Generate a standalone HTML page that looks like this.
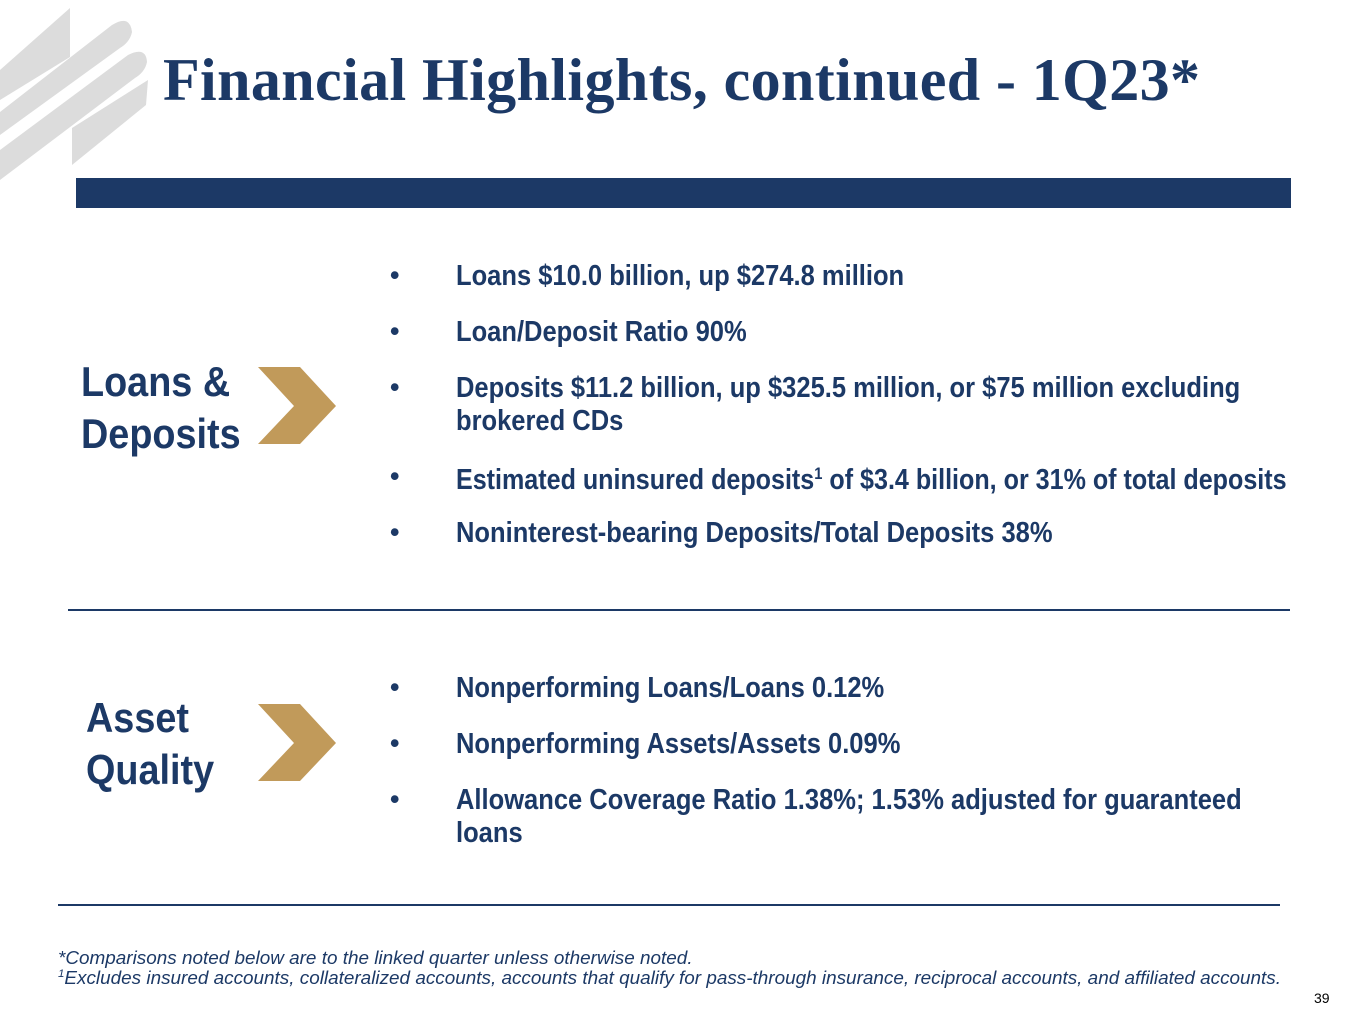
<!DOCTYPE html>
<html><head><meta charset="utf-8"><style>
body{margin:0;width:1365px;height:1024px;background:#fff;position:relative;overflow:hidden;font-family:"Liberation Sans",sans-serif;color:#1c3966}
.a{position:absolute}
.t{font-family:"Liberation Serif",serif;font-weight:bold;font-size:60px;letter-spacing:0.4px;left:163px;top:46px;color:#1c3966;white-space:nowrap}
.bar{left:76px;top:178px;width:1215px;height:30px;background:#1c3966}
.h{font-weight:bold;font-size:42px;line-height:52px;transform:scaleX(0.9);transform-origin:left top;white-space:nowrap}
.li{font-weight:bold;font-size:29px;line-height:33px;white-space:nowrap;transform:scaleX(0.88);transform-origin:left top}
.bu{font-weight:bold;font-size:27px}
.rule{height:2px;background:#1c3966}
.fn{font-style:italic;font-size:18px;color:#1c3966;white-space:nowrap;transform:scaleX(1.05);transform-origin:left top}
</style></head><body>
<svg class="a" style="left:0;top:0" width="160" height="200">
<polygon points="70,8 70,57 0,100 0,70" fill="#dcdcdc"/>
<path d="M0,112 L112,25 Q130,14 132,32 Q130,42 120,48 L0,135 Z" fill="#dcdcdc"/>
<path d="M0,150 L128,55 Q146,46 147,62 Q145,72 135,78 L0,180 Z" fill="#dcdcdc"/>
<polygon points="72,128 148,80 146,105 72,165" fill="#dcdcdc"/>
</svg>
<div class="a t">Financial Highlights, continued - 1Q23*</div>
<div class="a bar"></div>

<div class="a h" style="left:81px;top:356px">Loans &amp;<br>Deposits</div>
<svg class="a" style="left:258px;top:367px" width="80" height="78"><polygon points="0,0 42,0 78,39 42,77 0,77 36,39" fill="#c19a5a"/></svg>
<div>
<div class="a bu" style="left:390px;top:260px">•</div><div class="a li" style="left:456px;top:260px">Loans $10.0 billion, up $274.8 million</div>
<div class="a bu" style="left:390px;top:316px">•</div><div class="a li" style="left:456px;top:316px">Loan/Deposit Ratio 90%</div>
<div class="a bu" style="left:390px;top:372px">•</div><div class="a li" style="left:456px;top:372px">Deposits $11.2 billion, up $325.5 million, or $75 million excluding<br>brokered CDs</div>
<div class="a bu" style="left:390px;top:461px">•</div><div class="a li" style="left:456px;top:457px;transform:scaleX(0.865)">Estimated uninsured deposits<span style="font-size:17px;vertical-align:10px">1</span> of $3.4 billion, or 31% of total deposits</div>
<div class="a bu" style="left:390px;top:517px">•</div><div class="a li" style="left:456px;top:517px">Noninterest-bearing Deposits/Total Deposits 38%</div>
</div>
<div class="a rule" style="left:68px;top:609px;width:1222px"></div>

<div class="a h" style="left:86px;top:692px">Asset<br>Quality</div>
<svg class="a" style="left:258px;top:704px" width="80" height="78"><polygon points="0,0 42,0 78,39 42,77 0,77 36,39" fill="#c19a5a"/></svg>
<div>
<div class="a bu" style="left:390px;top:672px">•</div><div class="a li" style="left:456px;top:672px">Nonperforming Loans/Loans 0.12%</div>
<div class="a bu" style="left:390px;top:728px">•</div><div class="a li" style="left:456px;top:728px">Nonperforming Assets/Assets 0.09%</div>
<div class="a bu" style="left:390px;top:784px">•</div><div class="a li" style="left:456px;top:784px">Allowance Coverage Ratio 1.38%; 1.53% adjusted for guaranteed<br>loans</div>
</div>
<div class="a rule" style="left:58px;top:904px;width:1222px"></div>

<div class="a fn" style="left:58px;top:948px">*Comparisons noted below are to the linked quarter unless otherwise noted.</div>
<div class="a fn" style="left:58px;top:968px"><span style="font-size:11px;vertical-align:7px">1</span>Excludes insured accounts, collateralized accounts, accounts that qualify for pass-through insurance, reciprocal accounts, and affiliated accounts.</div>
<div class="a" style="left:1314px;top:990px;font-size:14px;color:#000">39</div>
</body></html>
